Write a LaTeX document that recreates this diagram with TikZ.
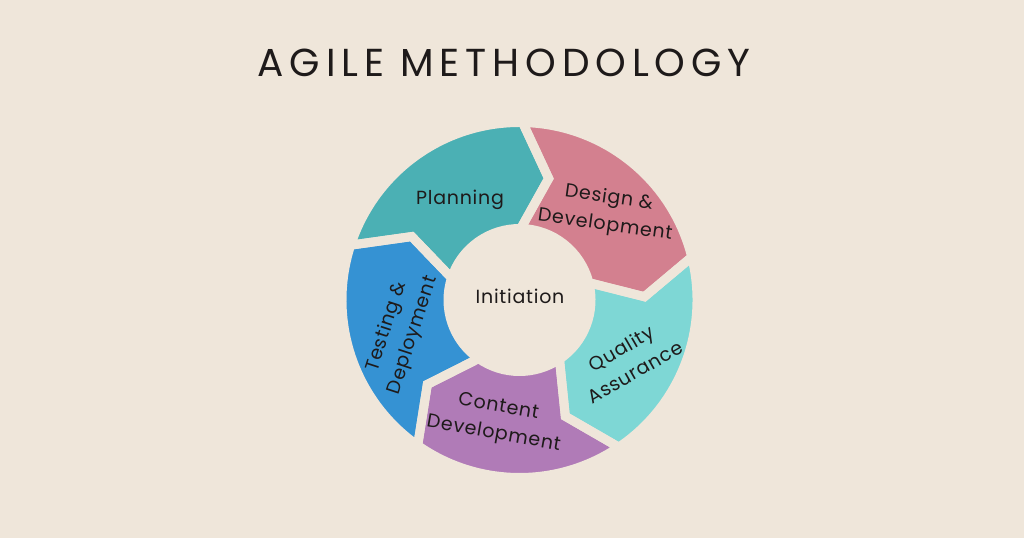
\documentclass[tikz,border=0pt]{standalone}
\usepackage{fontspec}
\setmainfont{Poppins}
\newfontfamily\titlefont[LetterSpace=15]{Poppins}
\newfontfamily\lblfont[LetterSpace=4]{Poppins}
\definecolor{bg}{HTML}{EFE6DA}
\definecolor{ink}{HTML}{1E1A1A}
\definecolor{cPlan}{HTML}{4BB0B4}
\definecolor{cDes}{HTML}{D3808F}
\definecolor{cQA}{HTML}{7ED7D5}
\definecolor{cCon}{HTML}{B07BB7}
\definecolor{cTest}{HTML}{3592D3}
\begin{document}
\begin{tikzpicture}[x=1pt,y=1pt,
  lbl/.style={text=ink,align=center,inner sep=0pt,font=\lblfont\fontsize{19}{27.5}\selectfont},
  ttl/.style={text=ink,inner sep=0pt,font=\titlefont\fontsize{39}{39}\selectfont}]
\fill[bg] (0,0) rectangle (1024,538);
\useasboundingbox (0,0) rectangle (1024,538);
\begin{scope}[shift={(519.5,238)}]
\def\Ro{177.5}\def\Ri{71.5}\def\Rm{125}\def\off{12.5}
\foreach \a/\b/\c in {162/89/cPlan, 89/14/cDes, 14/-56/cQA, -56/-125/cCon, 235/162/cTest}{
  \fill[\c] (\a:\Ro) arc[start angle=\a, end angle=\b, radius=\Ro] -- (\b-\off:\Rm) -- (\b:\Ri)
     arc[start angle=\b, end angle=\a, radius=\Ri] -- (\a-\off:\Rm) -- cycle;
}
\foreach \a/\b in {162/89, 89/14, 14/-56, -56/-125, 235/162}{
  \draw[bg,line width=9pt,line join=miter] (\a:\Ro) arc[start angle=\a, end angle=\b, radius=\Ro] -- (\b-\off:\Rm) -- (\b:\Ri)
     arc[start angle=\b, end angle=\a, radius=\Ri] -- (\a-\off:\Rm) -- cycle;
}
\end{scope}
\node[ttl] (title) at (504,475) {AGILE METHODOLOGY};
\node[lbl,anchor=base] (plan) at (460,333) {Planning};
\node[lbl,anchor=base] (init) at (520,234) {Initiation};
\node[lbl,rotate=-8] (des) at (607,326) {Design \&\\Development};
\node[lbl,rotate=30] (qa) at (628,178) {Quality\\Assurance};
\node[lbl,rotate=-10] (con) at (496,117) {Content\\Development};
\node[lbl,rotate=72] (test) at (400,207) {Testing \&\\Deployment};
\end{tikzpicture}
\end{document}
